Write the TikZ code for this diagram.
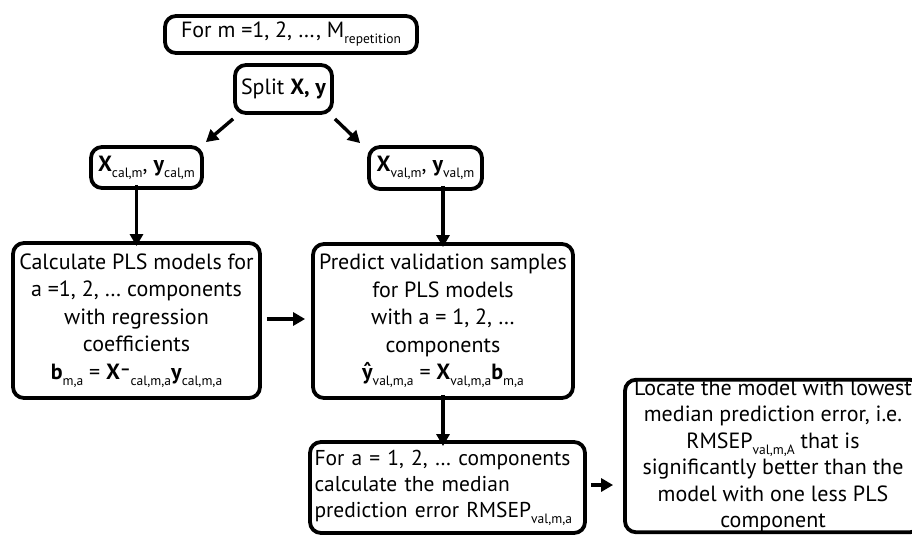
\documentclass[tikz,border=0pt]{standalone}
\usepackage{fontspec}
\setmainfont{PT Sans}
\usetikzlibrary{arrows.meta}
\newcommand{\sbs}[1]{\raisebox{-6pt}{\fontsize{13.5}{13.5}\selectfont #1}}
\newcommand{\bfv}[1]{\textbf{#1}}
\newcommand{\yhat}{\textbf{\ooalign{y\cr\hidewidth\raisebox{1pt}{ˆ}\hidewidth\cr}}}
\begin{document}
\begin{tikzpicture}[x=1pt,y=-1pt,
  box/.style={draw, line width=3.8pt, rounded corners=11pt, align=center,
    inner sep=0pt, font=\fontsize{22}{27.5}\selectfont},
  arr/.style={line width=3.4pt, -{Triangle[length=12pt,width=13pt]}}]
\useasboundingbox (0,0) rectangle (912,535);
\clip (0,0) rectangle (912,535);
\node[box, minimum width=252pt, minimum height=37pt] (top) at (291,34.5)
  {For m =1, 2, …, M\sbs{repetition}};
\node[box, minimum width=97pt, minimum height=48pt] (split) at (283.5,89)
  {Split \bfv{X, y}};
\node[box, minimum width=111pt, minimum height=41pt] (xcal) at (146.5,167.5)
  {\bfv{X}\sbs{cal,m}, \bfv{y}\sbs{cal,m}};
\node[box, minimum width=113pt, minimum height=42pt] (xval) at (425.5,168)
  {\bfv{X}\sbs{val,m}, \bfv{y}\sbs{val,m}};
\node[box, minimum width=247pt, minimum height=155pt] (calc) at (136.5,320.5)
  {Calculate PLS models for\\ a =1, 2, … components\\ with regression\\ coefficients\\
   \bfv{b}\sbs{m,a} = \bfv{X}\raisebox{5pt}{\bfseries\fontsize{16}{16}\selectfont –}\sbs{cal,m,a}\bfv{y}\sbs{cal,m,a}};
\node[box, minimum width=260pt, minimum height=154pt] (pred) at (443,321)
  {Predict validation samples\\ for PLS models\\ with a = 1, 2, …\\ components\\
   \yhat\sbs{val,m,a} = \bfv{X}\sbs{val,m,a}\bfv{b}\sbs{m,a}};
\node[box, minimum width=275pt, minimum height=91pt, text width=266pt, align=left,
  font=\fontsize{21.5}{26}\selectfont] (fora) at (447.5,487.5)
  {For a = 1, 2, … components\\ calculate the median\\ prediction error RMSEP\sbs{val,m,a}};
\node[box, minimum width=296pt, minimum height=152pt, font=\fontsize{22}{26.5}\selectfont] (loc) at (773,456)
  {Locate the model with lowest\\ median prediction error, i.e.\\ RMSEP\sbs{val,m,A} that is\\
   significantly better than the\\ model with one less PLS\\ component};
\draw[arr] ([shift={(0,4)}]split.south west) -- ([shift={(2,-3)}]xcal.north east);
\draw[arr] ([shift={(1,4)}]split.south east) -- ([shift={(-7,-2)}]xval.north west);
\draw[arr] ([yshift=5pt]xcal.south -| calc.north) -- ([yshift=-5pt]calc.north);
\draw[arr] ([yshift=5pt]xval.south -| pred.north) -- ([yshift=-5pt]pred.north);
\draw[arr] ([xshift=5pt,yshift=1.5pt]calc.east) -- ([xshift=-6pt,yshift=1.5pt]calc.east -| pred.west);
\draw[arr] ([yshift=5pt]pred.south) -- ([yshift=-6pt]pred.south |- fora.north);
\draw[arr] ([xshift=4pt,yshift=2.5pt]fora.east) -- ([xshift=-10pt,yshift=2.5pt]fora.east -| loc.west);
\end{tikzpicture}
\end{document}
